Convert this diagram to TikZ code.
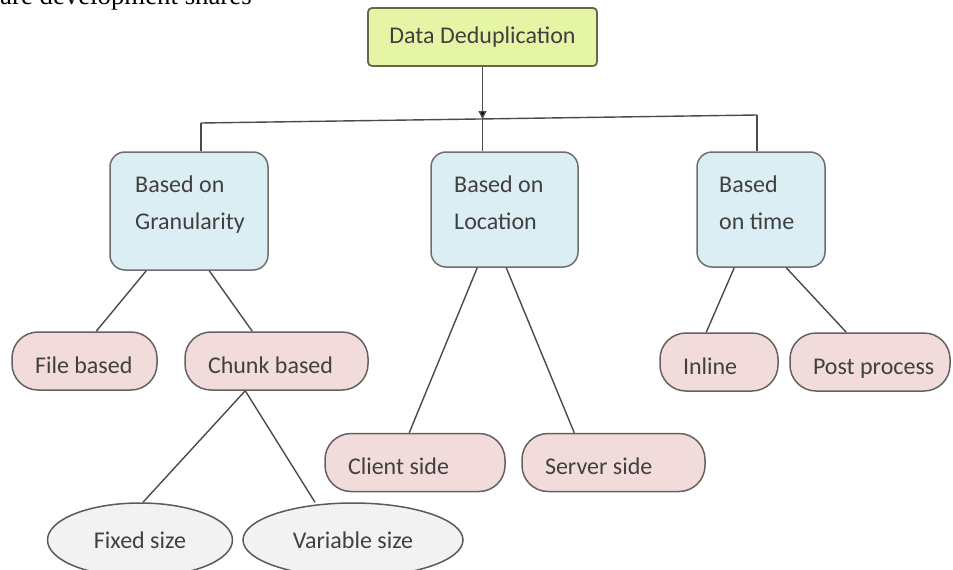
\documentclass[tikz,border=0pt]{standalone}
\usepackage{fontspec}
\setmainfont{Carlito}
\newfontfamily\serifcap{Liberation Serif}
\usetikzlibrary{arrows.meta,calc,shapes.geometric}

\definecolor{rootfill}{HTML}{E6F4A6}
\definecolor{rootline}{HTML}{66684A}
\definecolor{catfill}{HTML}{DBEEF3}
\definecolor{catline}{HTML}{6E6E6E}
\definecolor{leaffill}{HTML}{F2DCDB}
\definecolor{leafline}{HTML}{666060}
\definecolor{ovalfill}{HTML}{F2F2F2}
\definecolor{ovalline}{HTML}{5A5A5A}
\definecolor{wire}{HTML}{4A4A4A}
\definecolor{ink}{HTML}{404040}

\newcommand\leftin[2]{\makebox[#1][l]{#2}}

\tikzset{
  x=1pt, y=-1pt,
  every node/.style={font=\fontsize{24}{29}\selectfont, text=ink},
  rootbox/.style={draw=rootline, line width=1.8pt, fill=rootfill, rounded corners=4pt,
    minimum width=229pt, minimum height=58pt, inner sep=0pt},
  catbox/.style={draw=catline, line width=1.5pt, fill=catfill, rounded corners=15pt,
    inner sep=0pt},
  leafbox/.style={draw=leafline, line width=1.5pt, fill=leaffill, rounded corners=26pt,
    inner ysep=0pt, inner xsep=23pt, minimum height=58pt,
    text height=24pt, text depth=0pt},
  ovalbox/.style={ellipse, draw=ovalline, line width=1.5pt, fill=ovalfill,
    minimum height=74pt, inner sep=0pt},
  lbl/.style={anchor=base west, inner sep=0pt},
  wireline/.style={draw=wire, line width=1.4pt},
}

\begin{document}
\begin{tikzpicture}
\useasboundingbox (0,0) rectangle (953,570);
\clip (0,0) rectangle (953,570);

% running text cut off at the top edge
\node[anchor=base west, inner sep=0pt, text=black,
      font=\serifcap\fontsize{26.8}{30}\selectfont] (runin) at (0,5) {are development shares};

% root
\node[rootbox] (root) at (482.5,37) {Data Deduplication};

% categories
\node[catbox, minimum width=158pt, minimum height=118pt] (gran) at (189,211) {};
\node[catbox, minimum width=147pt, minimum height=115pt] (loc)  at (504.5,209.5) {};
\node[catbox, minimum width=128pt, minimum height=115pt] (time) at (761,209.5) {};

\node[lbl] (granA) at (135,192) {Based on};
\node[lbl] (granB) at (135,229) {Granularity};
\node[lbl] (locA)  at (454,192) {Based on};
\node[lbl] (locB)  at (454,229) {Location};
\node[lbl] (timeA) at (719,192) {Based};
\node[lbl] (timeB) at (719,229) {on time};

% leaves
\node[leafbox] (file)   at (84.5,361)    {\leftin{99pt}{File based}};
\node[leafbox] (chunk)  at (276.5,361)   {\leftin{137pt}{Chunk based}};
\node[leafbox] (inline) at (719,362)     {\leftin{72pt}{Inline}};
\node[leafbox] (post)   at (870,362)     {\leftin{114pt}{Post process}};
\node[leafbox] (client) at (415,462.5)   {\leftin{134pt}{Client side}};
\node[leafbox] (server) at (613.5,462.5) {\leftin{137pt}{Server side}};

% chunk variants
\node[ovalbox, minimum width=185pt] (fixed) at (140,540) {Fixed size};
\node[ovalbox, minimum width=220pt] (var)   at (353,540) {Variable size};

% distribution bus under the root
\coordinate (busL) at (201,123);
\coordinate (busR) at (757,115);
\coordinate (busC) at (482.5,119);
\draw[wireline] (busL) -- (busR);
\draw[wireline, -{Triangle[length=8pt,width=8pt,fill=black]}] (root.south) -- (busC);
\draw[wireline] (busL) -- (busL |- gran.north);
\draw[wireline] (busC) -- (busC |- loc.north);
\draw[wireline] (busR) -- (busR |- time.north);

% category to leaf connectors
\draw[wireline] ([xshift=37pt]gran.south west) -- ([xshift=85pt]file.north west);
\draw[wireline] ([xshift=100pt]gran.south west) -- ([xshift=68pt]chunk.north west);
\draw[wireline] ([xshift=47pt]loc.south west) -- ([xshift=85pt]client.north west);
\draw[wireline] ([xshift=76pt]loc.south west) -- ([xshift=53pt]server.north west);
\draw[wireline] ([xshift=38pt]time.south west) -- ([xshift=47pt]inline.north west);
\draw[wireline] ([xshift=90pt]time.south west) -- ([xshift=57pt]post.north west);

% chunk to size variants
\coordinate (chunkfoot) at ([xshift=61pt]chunk.south west);
\draw[wireline] (chunkfoot) -- ([xshift=3pt]fixed.north);
\draw[wireline] (chunkfoot) -- ([xshift=-38pt]var.north);
\end{tikzpicture}
\end{document}
